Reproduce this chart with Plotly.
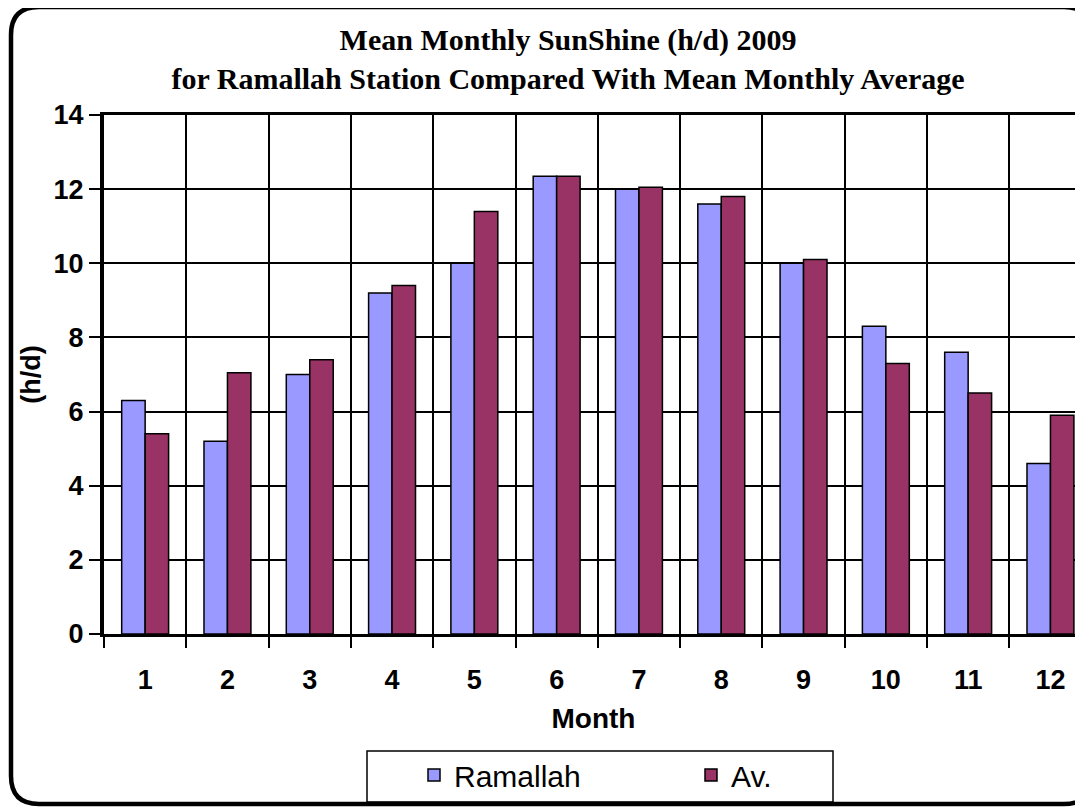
import plotly.graph_objects as go

months = [1, 2, 3, 4, 5, 6, 7, 8, 9, 10, 11, 12]
month_labels = ["1", "2", "3", "4", "5", "6", "7", "8", "9", "10", "11", "12"]
ramallah = [6.3, 5.2, 7.0, 9.2, 10.0, 12.35, 12.0, 11.6, 10.0, 8.3, 7.6, 4.6]
average = [5.4, 7.05, 7.4, 9.4, 11.4, 12.35, 12.05, 11.8, 10.1, 7.3, 6.5, 5.9]
boundaries = [m - 0.5 for m in months] + [12.5]

OFF = 8  # page body margin
W, H = 1083, 807
L, R, T, B = 104 - OFF, OFF, 115 - OFF, H - (634 - OFF)
pw, ph = W - L - R, H - T - B


def sx(x):  # screen px -> paper
    return (x - OFF - L) / pw


def sy(y):
    return (H - B - (y - OFF)) / ph


fig = go.Figure()
fig.add_trace(go.Bar(x=months, y=ramallah, name="Ramallah",
                     marker=dict(color="#9999FF", line=dict(color="black", width=1.5))))
fig.add_trace(go.Bar(x=months, y=average, name="Av.",
                     marker=dict(color="#993366", line=dict(color="black", width=1.5))))

# rounded outer border
x0, x1, y0, y1, r = 11, 1092, 7, 804, 28
path = (f"M {sx(x0+r)},{sy(y0)} L {sx(x1-r)},{sy(y0)} Q {sx(x1)},{sy(y0)} {sx(x1)},{sy(y0+r)} "
        f"L {sx(x1)},{sy(y1-r)} Q {sx(x1)},{sy(y1)} {sx(x1-r)},{sy(y1)} "
        f"L {sx(x0+r)},{sy(y1)} Q {sx(x0)},{sy(y1)} {sx(x0)},{sy(y1-r)} "
        f"L {sx(x0)},{sy(y0+r)} Q {sx(x0)},{sy(y0)} {sx(x0+r)},{sy(y0)} Z")
fig.add_shape(type="path", path=path, xref="paper", yref="paper",
              line=dict(color="black", width=4.5), layer="above")
# legend box
fig.add_shape(type="rect", xref="paper", yref="paper",
              x0=sx(367), x1=sx(833), y0=sy(751), y1=sy(802),
              line=dict(color="black", width=1.5), layer="above")

fig.update_layout(
    width=W, height=H,
    margin=dict(l=L, r=R, t=T, b=B),
    paper_bgcolor="white", plot_bgcolor="white",
    barmode="group", bargap=0.43, bargroupgap=0,
    title=dict(text="<b>Mean Monthly SunShine (h/d) 2009<br>for Ramallah Station Compared With Mean Monthly Average</b>",
               font=dict(family="Liberation Serif", size=30, color="black"),
               x=sx(568), xref="paper", xanchor="center",
               y=1 - 42 / H, yref="container", yanchor="top"),
    xaxis=dict(range=[0.5, 0.5 + pw / 82.3], tickvals=months, ticktext=month_labels,
               ticks="", showgrid=False, zeroline=False,
               tickfont=dict(family="Liberation Sans", size=27, color="black", weight="bold"),
               ticklabelstandoff=20,
               showline=True, linecolor="black", linewidth=3, mirror=True,
               minor=dict(tickvals=boundaries, ticks="outside", ticklen=11, tickwidth=1.5,
                          tickcolor="black", showgrid=True, gridcolor="black", gridwidth=1.5),
               title=dict(text="<b>Month</b>", font=dict(family="Liberation Sans", size=28, color="black"),
                          standoff=14)),
    yaxis=dict(range=[0, 14], dtick=2, ticks="outside", ticklen=11, tickwidth=1.5, tickcolor="black",
               showgrid=True, gridcolor="black", gridwidth=1.5, zeroline=False,
               showline=True, linecolor="black", linewidth=4,
               tickfont=dict(family="Liberation Sans", size=27, color="black", weight="bold"),
               title=dict(text="<b>(h/d)</b>", font=dict(family="Liberation Sans", size=27, color="black"),
                          standoff=6)),
    legend=dict(orientation="h", x=sx(414), xanchor="left", y=sy(775), yanchor="middle",
                borderwidth=0, bgcolor="rgba(0,0,0,0)",
                font=dict(family="Liberation Sans", size=30, color="black"),
                entrywidth=232, traceorder="normal"),
    showlegend=True,
)

fig.write_html("out.html")
